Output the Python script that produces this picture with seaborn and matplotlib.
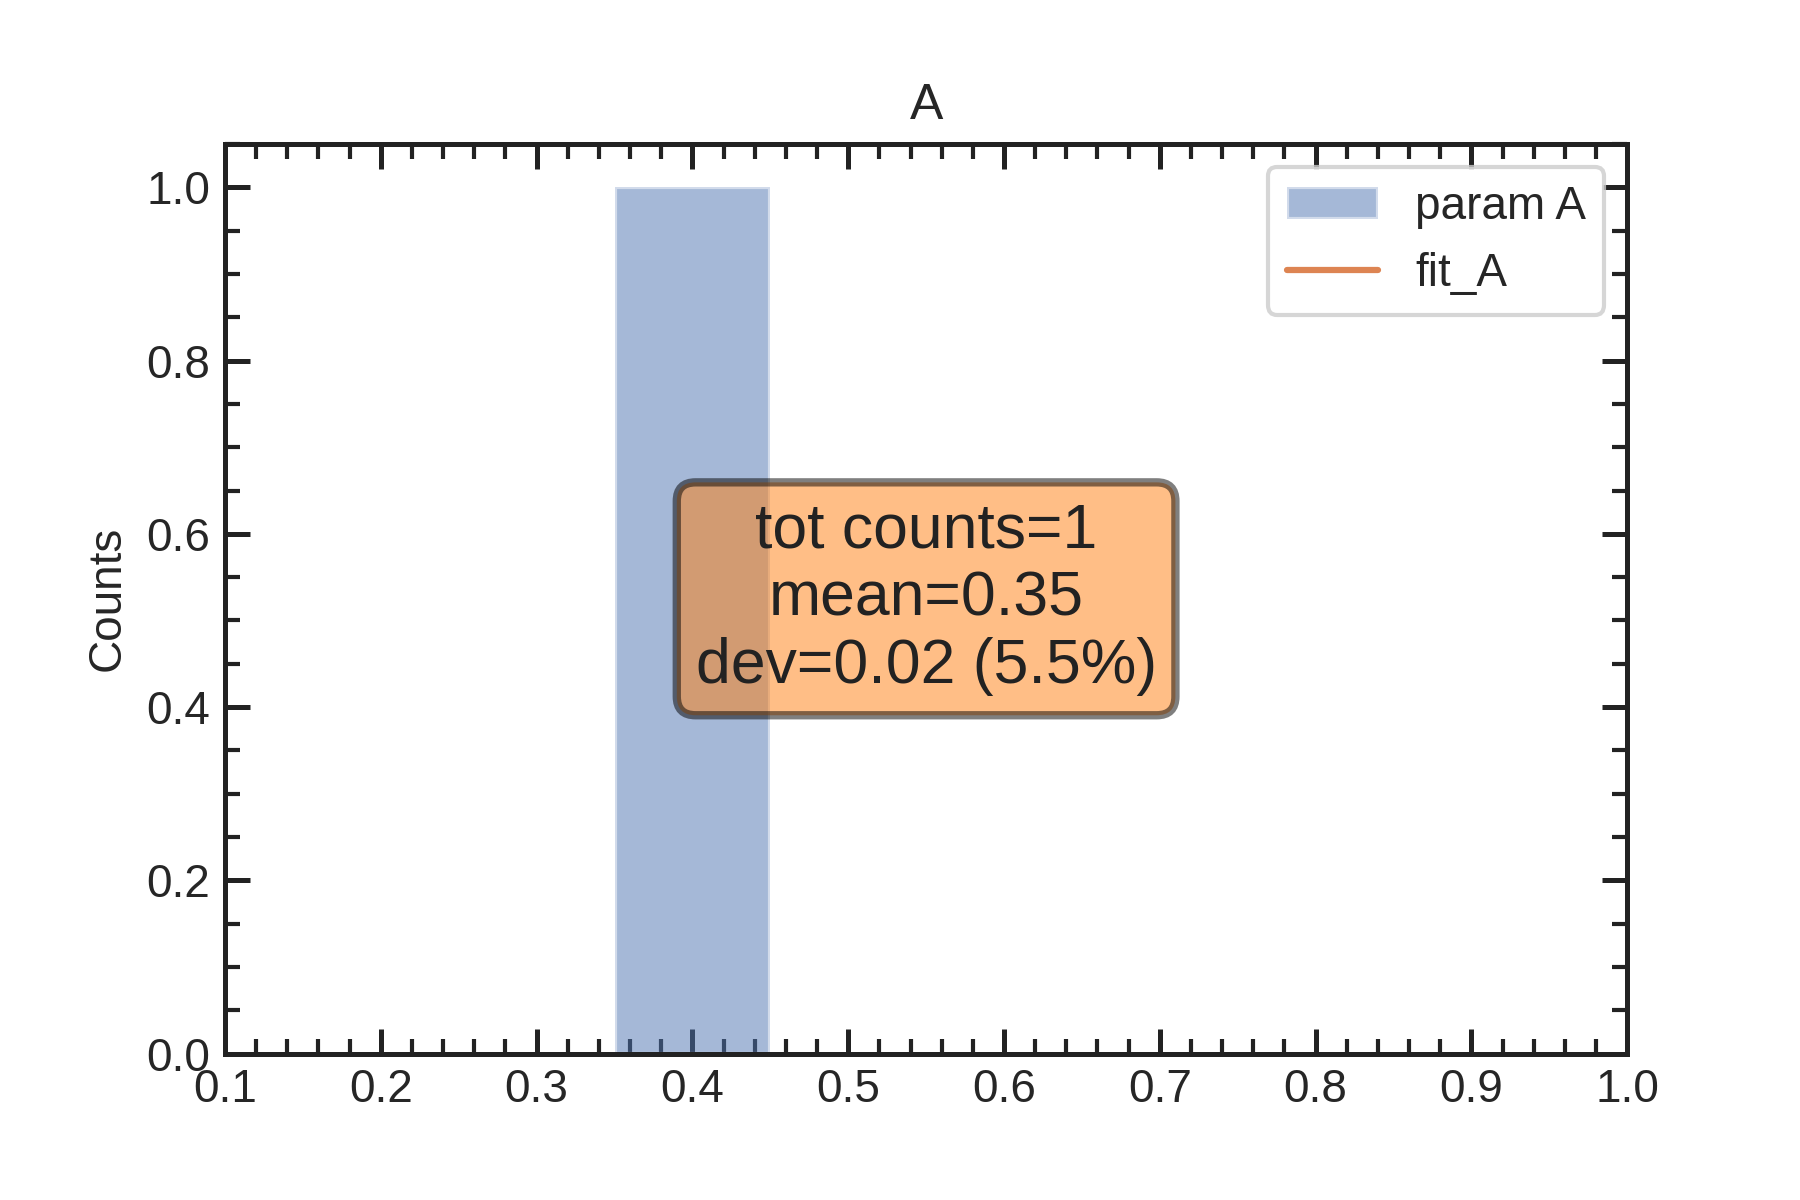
import matplotlib
matplotlib.use("Agg")
import matplotlib.pyplot as plt
import seaborn as sns
from matplotlib.ticker import MultipleLocator

sns.set_theme(style="white")
plt.rcParams.update({
    "font.family": ["Arial", "Liberation Sans", "DejaVu Sans"],
    "xtick.direction": "in",
    "ytick.direction": "in",
    "xtick.top": True,
    "ytick.right": True,
})

# data
bin_edges = [0.35, 0.45]
bin_counts = [1]
fit_x = []
fit_y = []
stats_text = "tot counts=1\nmean=0.35\ndev=0.02 (5.5%)"

blue, orange = sns.color_palette("deep")[:2]

fig, ax = plt.subplots(figsize=(6, 4), dpi=300)
ax.hist(bin_edges[:-1], bins=bin_edges, weights=bin_counts,
        color=blue, alpha=0.5, label="param A")
ax.plot(fit_x, fit_y, color=orange, label="fit_A")

ax.set_xlim(0.1, 1.0)
ax.set_ylim(0.0, 1.05)
ax.set_title("A", fontsize=12)
ax.set_ylabel("Counts", fontsize=11)
ax.xaxis.set_major_locator(MultipleLocator(0.1))
ax.xaxis.set_minor_locator(MultipleLocator(0.02))
ax.yaxis.set_major_locator(MultipleLocator(0.2))
ax.yaxis.set_minor_locator(MultipleLocator(0.05))
ax.tick_params(which="major", length=6, width=1.2, color="#222222", labelsize=11,
               top=True, right=True, direction="in", bottom=True, left=True)
ax.tick_params(which="minor", length=3.5, width=1.0, color="#222222",
               top=True, right=True, direction="in", bottom=True, left=True)
for s in ax.spines.values():
    s.set_color("#222222")
    s.set_linewidth(1.2)

ax.text(0.5, 0.5, stats_text, transform=ax.transAxes, ha="center", va="center",
        fontsize=15, color="#222222",
        bbox=dict(boxstyle="round,pad=0.3", facecolor="#ff7f0e", alpha=0.5,
                  edgecolor="black", linewidth=2))

ax.legend(loc="upper right", fontsize=11, frameon=True)
fig.subplots_adjust(left=0.125, right=0.904, bottom=0.122, top=0.88)
fig.savefig("out.png", dpi=300)
